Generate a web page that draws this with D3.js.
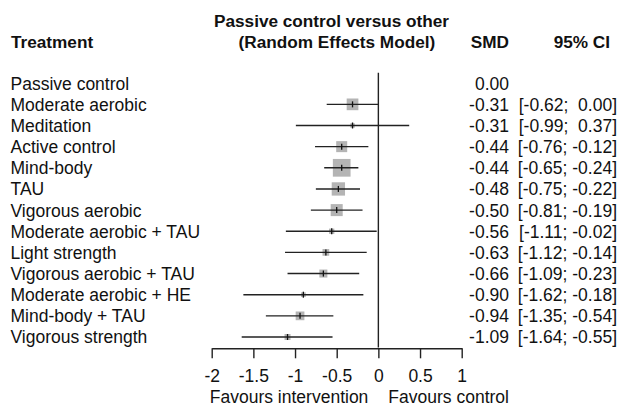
<!DOCTYPE html>
<html>
<head>
<meta charset="utf-8">
<script src="https://cdn.jsdelivr.net/npm/d3@7"></script>
<style>
  html, body { margin: 0; padding: 0; background: #fff; }
  svg { display: block; font-family: "Liberation Sans", Arial, sans-serif; }
  text { fill: #111; }
  .pre { white-space: pre; }
</style>
</head>
<body>
<svg id="chart" width="620" height="407"></svg>
<script>
// Network meta-analysis: each treatment compared with passive control
const treatments = [
  "Passive control", "Moderate aerobic", "Meditation", "Active control",
  "Mind-body", "TAU", "Vigorous aerobic", "Moderate aerobic + TAU",
  "Light strength", "Vigorous aerobic + TAU", "Moderate aerobic + HE",
  "Mind-body + TAU", "Vigorous strength"
];
const smd   = [0.00, -0.31, -0.31, -0.44, -0.44, -0.48, -0.50, -0.56, -0.63, -0.66, -0.90, -0.94, -1.09];
const lower = [null, -0.62, -0.99, -0.76, -0.65, -0.75, -0.81, -1.11, -1.12, -1.09, -1.62, -1.35, -1.64];
const upper = [null,  0.00,  0.37, -0.12, -0.24, -0.22, -0.19, -0.02, -0.14, -0.23, -0.18, -0.54, -0.55];
// relative weight of each comparison (box area)
const weight = [0, 137, 20, 121, 313, 177, 144, 28, 45, 64, 22, 76, 36];
const tickValues = [-2, -1.5, -1, -0.5, 0, 0.5, 1];
const tickLabels = ["-2", "-1.5", "-1", "-0.5", "0", "0.5", "1"];

const svg = d3.select("#chart");
const FS = 17.5;
const HFS = 17.2;

const x = d3.scaleLinear().domain([-2, 1]).range([211.7, 461.7]);
const y = d3.scalePoint().domain(treatments).range([83.2, 337]);
const box = d3.scaleSqrt().domain([0, 313]).range([0, 17.7]);

const fmt = v => v.toFixed(2);
const pad = v => (v >= 0 ? " " : "") + fmt(v);

// column headers
const head = svg.append("g").attr("font-weight", "bold").attr("font-size", HFS);
head.append("text").attr("x", 11).attr("y", 47.5).text("Treatment");
head.append("text").attr("x", 214).attr("y", 26.5).text("Passive control versus other");
head.append("text").attr("x", 238.5).attr("y", 47.5).text("(Random Effects Model)");
head.append("text").attr("x", 509).attr("y", 47.5).attr("text-anchor", "end").text("SMD");
head.append("text").attr("x", 610).attr("y", 47.5).attr("text-anchor", "end").text("95% CI");

const rows = treatments.map((t, i) => ({
  name: t, est: smd[i], lo: lower[i], hi: upper[i], w: weight[i]
}));

// reference line at no effect
const step = y.step();
svg.append("line")
  .attr("x1", x(0)).attr("x2", x(0))
  .attr("y1", y(treatments[0]) - step / 2)
  .attr("y2", y(treatments[treatments.length - 1]) + step / 2)
  .attr("stroke", "#222").attr("stroke-width", 1.4);

// treatment labels
svg.append("g").attr("font-size", FS)
  .selectAll("text").data(rows).join("text")
  .attr("x", 10.5).attr("y", d => y(d.name) + 6.4)
  .text(d => d.name);

// estimates with confidence intervals
const marks = svg.append("g").selectAll("g")
  .data(rows.filter(d => d.lo !== null)).join("g");

marks.append("rect")
  .attr("x", d => x(d.est) - box(d.w) / 2)
  .attr("y", d => y(d.name) - box(d.w) / 2)
  .attr("width", d => box(d.w))
  .attr("height", d => box(d.w))
  .attr("fill", "#b4b4b4");

marks.append("line")
  .attr("x1", d => x(d.lo)).attr("x2", d => x(d.hi))
  .attr("y1", d => y(d.name)).attr("y2", d => y(d.name))
  .attr("stroke", "#222").attr("stroke-width", 1.4);

marks.append("line")
  .attr("x1", d => x(d.est)).attr("x2", d => x(d.est))
  .attr("y1", d => y(d.name) - 3).attr("y2", d => y(d.name) + 3)
  .attr("stroke", "#111").attr("stroke-width", 1.3);

// SMD column
svg.append("g").attr("font-size", FS).attr("text-anchor", "end")
  .selectAll("text").data(rows).join("text")
  .attr("x", 509).attr("y", d => y(d.name) + 6.4)
  .text(d => fmt(d.est));

// 95% CI column
svg.append("g").attr("font-size", FS).attr("text-anchor", "end")
  .selectAll("text").data(rows.filter(d => d.lo !== null)).join("text")
  .attr("class", "pre")
  .attr("x", 617).attr("y", d => y(d.name) + 6.4)
  .text(d => "[" + fmt(d.lo) + ";" + " " + pad(d.hi) + "]");

// x axis
const axis = d3.axisBottom(x)
  .tickValues(tickValues)
  .tickFormat((d, i) => tickLabels[i])
  .tickSize(10).tickPadding(11)
  .tickSizeOuter(0);

const ax = svg.append("g").attr("transform", "translate(0,348.3)").call(axis);
ax.select(".domain").attr("stroke", "#222").attr("stroke-width", 1.4);
ax.selectAll(".tick line").attr("stroke", "#222").attr("stroke-width", 1.4);
ax.selectAll(".tick text")
  .attr("font-size", FS)
  .attr("font-family", "Liberation Sans, Arial, sans-serif")
  .attr("fill", "#111");

// direction labels
svg.append("text").attr("font-size", FS).attr("text-anchor", "end")
  .attr("x", x(0) - 10).attr("y", 403).text("Favours intervention");
svg.append("text").attr("font-size", FS)
  .attr("x", x(0) + 10).attr("y", 403).text("Favours control");
</script>
</body>
</html>
